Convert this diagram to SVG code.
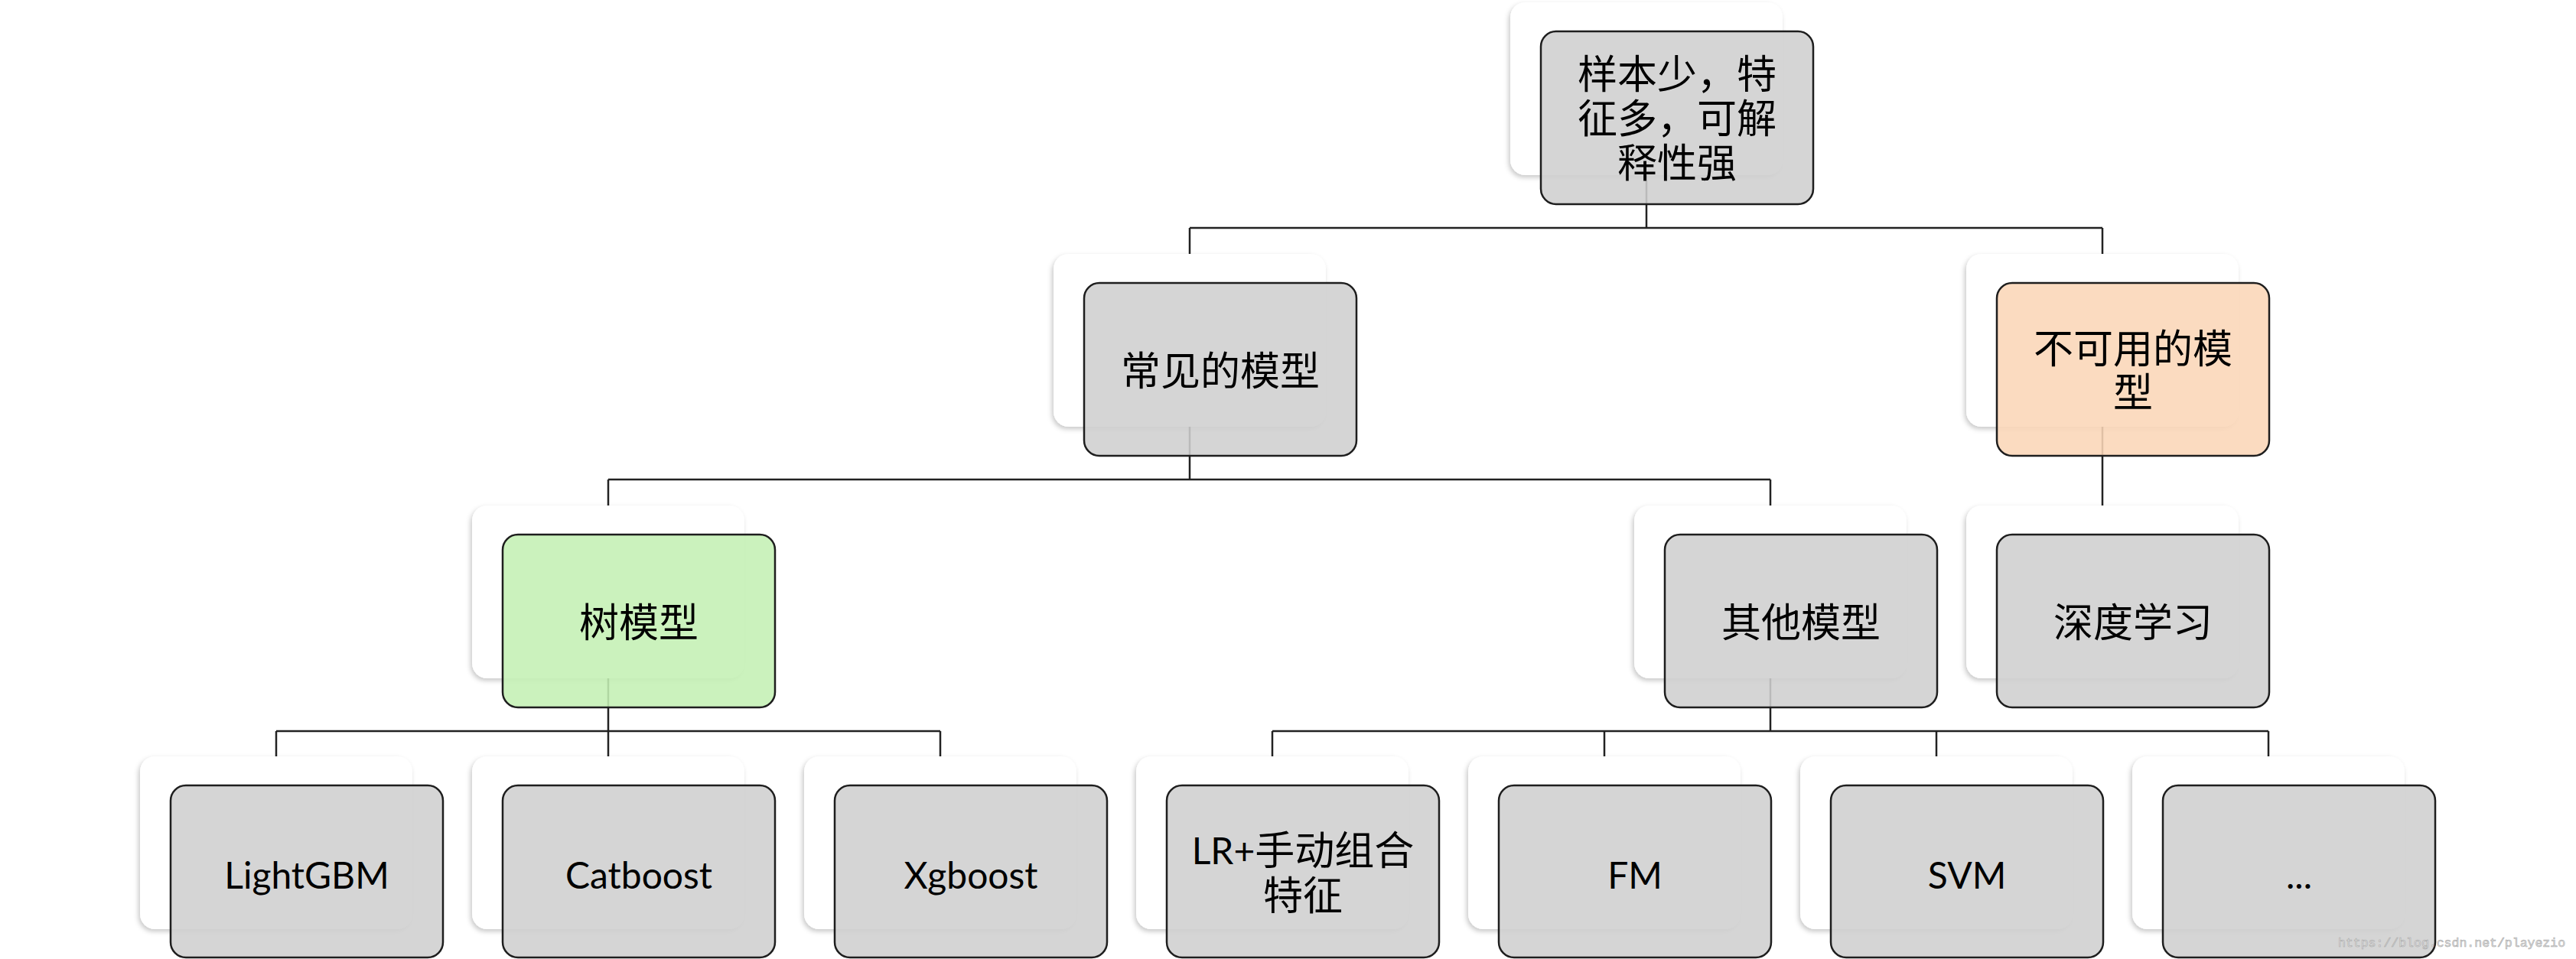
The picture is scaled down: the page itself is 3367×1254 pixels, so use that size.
<svg xmlns="http://www.w3.org/2000/svg" width="3367" height="1254" viewBox="0 0 3367 1254">
<defs>
<filter id="sh" x="-10%" y="-10%" width="120%" height="125%">
<feDropShadow dx="-2" dy="3" stdDeviation="3" flood-color="#000" flood-opacity="0.22"/>
</filter>
<style>
.card{fill:#fff;filter:url(#sh)}
.box{stroke:#1e1e1e;stroke-width:2.5;fill-opacity:0.88}
.grey{fill:#cfcfcf}
.green{fill:#c4f0b4}
.orange{fill:#fbd6b7}
.conn line{stroke:#222;stroke-width:2.5}
.t{font-family:Lato,"Noto Sans CJK SC",sans-serif;font-size:52px;fill:#000;text-anchor:middle;dominant-baseline:central}
.lat{font-family:Lato,"Noto Sans CJK SC",sans-serif;font-size:48px;fill:#000;text-anchor:middle}
.wm{font-family:"Liberation Mono",monospace;font-size:16.5px;fill:#e4e4e4;stroke:#a8a8a8;stroke-width:0.6}
</style>
</defs>
<rect width="3367" height="1254" fill="#fff"/>
<g id="connectors" class="conn">
<line x1="2152" y1="229" x2="2152" y2="298"/>
<line x1="1555" y1="298" x2="2748" y2="298"/>
<line x1="1555" y1="298" x2="1555" y2="332"/>
<line x1="2748" y1="298" x2="2748" y2="332"/>
<line x1="1555" y1="558" x2="1555" y2="627"/>
<line x1="795" y1="627" x2="2314" y2="627"/>
<line x1="795" y1="627" x2="795" y2="661"/>
<line x1="2314" y1="627" x2="2314" y2="661"/>
<line x1="2748" y1="558" x2="2748" y2="661"/>
<line x1="795" y1="887" x2="795" y2="956"/>
<line x1="361" y1="956" x2="1229" y2="956"/>
<line x1="361" y1="956" x2="361" y2="989"/>
<line x1="795" y1="956" x2="795" y2="989"/>
<line x1="1229" y1="956" x2="1229" y2="989"/>
<line x1="2314" y1="887" x2="2314" y2="956"/>
<line x1="1663" y1="956" x2="2965" y2="956"/>
<line x1="1663" y1="956" x2="1663" y2="989"/>
<line x1="2097" y1="956" x2="2097" y2="989"/>
<line x1="2531" y1="956" x2="2531" y2="989"/>
<line x1="2965" y1="956" x2="2965" y2="989"/>
</g>
<g id="n0">
<rect class="card" x="1974" y="3" width="356" height="226" rx="20"/>
<rect class="box grey" x="2014" y="41" width="356" height="226" rx="20"/>
<text class="t" x="2192" y="96">样本少，特</text>
<text class="t" x="2192" y="154">征多，可解</text>
<text class="t" x="2192" y="212">释性强</text>
</g>
<g id="n1a">
<rect class="card" x="1377" y="332" width="356" height="226" rx="20"/>
<rect class="box grey" x="1417" y="370" width="356" height="226" rx="20"/>
<text class="t" x="1595" y="484">常见的模型</text>
</g>
<g id="n1b">
<rect class="card" x="2570" y="332" width="356" height="226" rx="20"/>
<rect class="box orange" x="2610" y="370" width="356" height="226" rx="20"/>
<text class="t" x="2788" y="455">不可用的模</text>
<text class="t" x="2788" y="512">型</text>
</g>
<g id="n2a">
<rect class="card" x="617" y="661" width="356" height="226" rx="20"/>
<rect class="box green" x="657" y="699" width="356" height="226" rx="20"/>
<text class="t" x="835" y="813">树模型</text>
</g>
<g id="n2b">
<rect class="card" x="2136" y="661" width="356" height="226" rx="20"/>
<rect class="box grey" x="2176" y="699" width="356" height="226" rx="20"/>
<text class="t" x="2354" y="813">其他模型</text>
</g>
<g id="n2c">
<rect class="card" x="2570" y="661" width="356" height="226" rx="20"/>
<rect class="box grey" x="2610" y="699" width="356" height="226" rx="20"/>
<text class="t" x="2788" y="813">深度学习</text>
</g>
<g id="n3a">
<rect class="card" x="183" y="989" width="356" height="226" rx="20"/>
<rect class="box grey" x="223" y="1027" width="356" height="225" rx="20"/>
<text class="lat" x="401" y="1162">LightGBM</text>
</g>
<g id="n3b">
<rect class="card" x="617" y="989" width="356" height="226" rx="20"/>
<rect class="box grey" x="657" y="1027" width="356" height="225" rx="20"/>
<text class="lat" x="835" y="1162">Catboost</text>
</g>
<g id="n3c">
<rect class="card" x="1051" y="989" width="356" height="226" rx="20"/>
<rect class="box grey" x="1091" y="1027" width="356" height="225" rx="20"/>
<text class="lat" x="1269" y="1162">Xgboost</text>
</g>
<g id="n3d">
<rect class="card" x="1485" y="989" width="356" height="226" rx="20"/>
<rect class="box grey" x="1525" y="1027" width="356" height="225" rx="20"/>
<text class="t" x="1703" y="1111"><tspan font-size="48">LR+</tspan>手动组合</text>
<text class="t" x="1703" y="1170">特征</text>
</g>
<g id="n3e">
<rect class="card" x="1919" y="989" width="356" height="226" rx="20"/>
<rect class="box grey" x="1959" y="1027" width="356" height="225" rx="20"/>
<text class="lat" x="2137" y="1162">FM</text>
</g>
<g id="n3f">
<rect class="card" x="2353" y="989" width="356" height="226" rx="20"/>
<rect class="box grey" x="2393" y="1027" width="356" height="225" rx="20"/>
<text class="lat" x="2571" y="1162">SVM</text>
</g>
<g id="n3g">
<rect class="card" x="2787" y="989" width="356" height="226" rx="20"/>
<rect class="box grey" x="2827" y="1027" width="356" height="225" rx="20"/>
<text class="lat" x="3005" y="1162">...</text>
</g>
<text class="wm" x="3056" y="1238">https://blog.csdn.net/playezio</text>
</svg>
